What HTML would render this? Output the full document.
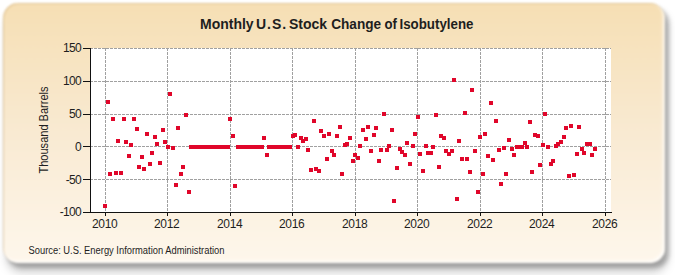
<!DOCTYPE html>
<html><head><meta charset="utf-8"><style>
html,body{margin:0;padding:0;background:#fff;width:675px;height:275px;overflow:hidden}
#panel{position:absolute;left:3px;top:3px;width:662px;height:260px;border-radius:15px;
background:linear-gradient(to bottom,#f6dfb4 0%,#f9ead2 50%,#fef7ec 100%);box-shadow:inset -2px -2px 3px rgba(255,255,255,0.85),inset 1px 1px 1px rgba(190,150,90,0.35);
filter:blur(1px)}
#shadow{position:absolute;left:7px;top:8px;width:662px;height:260px;border-radius:15px;background:rgba(0,0,0,0.24);filter:blur(2px)}
#shadow2{position:absolute;left:6px;top:11px;width:662px;height:262px;border-radius:15px;background:rgba(0,0,0,0.17);filter:blur(4px)}
svg{position:absolute;left:0;top:0}
text{font-family:"Liberation Sans",sans-serif;fill:#1e1e1e}
</style></head><body>
<div id="shadow2"></div><div id="shadow"></div><div id="panel"></div>
<svg width="675" height="275" viewBox="0 0 675 275">
<rect x="91" y="48" width="520" height="164" fill="#fff"/>
<g stroke="#a0a0a0" stroke-width="1" stroke-dasharray="3,1" shape-rendering="crispEdges">
<line x1="90" y1="48.5" x2="611" y2="48.5"/><line x1="90" y1="81.5" x2="611" y2="81.5"/><line x1="90" y1="114.5" x2="611" y2="114.5"/><line x1="90" y1="146.5" x2="611" y2="146.5"/><line x1="90" y1="179.5" x2="611" y2="179.5"/><line x1="105.5" y1="48" x2="105.5" y2="212"/><line x1="167.5" y1="48" x2="167.5" y2="212"/><line x1="230.5" y1="48" x2="230.5" y2="212"/><line x1="292.5" y1="48" x2="292.5" y2="212"/><line x1="355.5" y1="48" x2="355.5" y2="212"/><line x1="417.5" y1="48" x2="417.5" y2="212"/><line x1="480.5" y1="48" x2="480.5" y2="212"/><line x1="542.5" y1="48" x2="542.5" y2="212"/><line x1="605.5" y1="48" x2="605.5" y2="212"/>
</g>
<g stroke="#111" stroke-width="1" shape-rendering="crispEdges">
<line x1="90.5" y1="48" x2="90.5" y2="213"/>
<line x1="83" y1="212.5" x2="612" y2="212.5"/>
<line x1="83" y1="48.5" x2="90" y2="48.5"/><line x1="83" y1="81.5" x2="90" y2="81.5"/><line x1="83" y1="114.5" x2="90" y2="114.5"/><line x1="83" y1="146.5" x2="90" y2="146.5"/><line x1="83" y1="179.5" x2="90" y2="179.5"/><line x1="83" y1="212.5" x2="90" y2="212.5"/><line x1="105.5" y1="213" x2="105.5" y2="216"/><line x1="167.5" y1="213" x2="167.5" y2="216"/><line x1="230.5" y1="213" x2="230.5" y2="216"/><line x1="292.5" y1="213" x2="292.5" y2="216"/><line x1="355.5" y1="213" x2="355.5" y2="216"/><line x1="417.5" y1="213" x2="417.5" y2="216"/><line x1="480.5" y1="213" x2="480.5" y2="216"/><line x1="542.5" y1="213" x2="542.5" y2="216"/><line x1="605.5" y1="213" x2="605.5" y2="216"/>
</g>
<g font-size="12" text-anchor="end" letter-spacing="-0.67"><text x="81" y="52">150</text><text x="81" y="85">100</text><text x="81" y="118">50</text><text x="81" y="151">0</text><text x="81" y="184">-50</text><text x="81" y="216">-100</text></g>
<g font-size="12" text-anchor="middle" letter-spacing="-0.35"><text x="104.675" y="228">2010</text><text x="166.675" y="228">2012</text><text x="229.675" y="228">2014</text><text x="291.675" y="228">2016</text><text x="354.675" y="228">2018</text><text x="416.675" y="228">2020</text><text x="479.675" y="228">2022</text><text x="541.675" y="228">2024</text><text x="604.675" y="228">2026</text></g>
<g font-size="14" font-weight="bold" fill="#0a0a0a">
<text x="200" y="29">Monthly</text>
<text x="256" y="29" textLength="30.2" lengthAdjust="spacing">U.S.</text>
<text x="289" y="29">Stock</text>
<text x="331.2" y="29" textLength="50" lengthAdjust="spacingAndGlyphs">Change</text>
<text x="384.6" y="29" textLength="12.4" lengthAdjust="spacingAndGlyphs">of</text>
<text x="399.5" y="29" textLength="74" lengthAdjust="spacingAndGlyphs">Isobutylene</text>
</g>
<text transform="translate(48 130) rotate(-90)" font-size="12" text-anchor="middle" textLength="87" lengthAdjust="spacingAndGlyphs">Thousand Barrels</text>
<text x="28.5" y="253.5" font-size="10" textLength="196" lengthAdjust="spacingAndGlyphs">Source: U.S. Energy Information Administration</text>
<g fill="#e0062a" shape-rendering="crispEdges">
<rect x="103" y="204" width="4" height="4"/><rect x="106" y="100" width="4" height="4"/><rect x="108" y="172" width="4" height="4"/><rect x="111" y="117" width="4" height="4"/><rect x="114" y="171" width="4" height="4"/><rect x="116" y="139" width="4" height="4"/><rect x="119" y="171" width="4" height="4"/><rect x="122" y="117" width="4" height="4"/><rect x="124" y="140" width="4" height="4"/><rect x="127" y="154" width="4" height="4"/><rect x="129" y="143" width="4" height="4"/><rect x="132" y="117" width="4" height="4"/><rect x="135" y="127" width="4" height="4"/><rect x="137" y="165" width="4" height="4"/><rect x="140" y="155" width="4" height="4"/><rect x="142" y="167" width="4" height="4"/><rect x="145" y="132" width="4" height="4"/><rect x="148" y="162" width="4" height="4"/><rect x="150" y="151" width="4" height="4"/><rect x="153" y="135" width="4" height="4"/><rect x="155" y="142" width="4" height="4"/><rect x="158" y="161" width="4" height="4"/><rect x="161" y="128" width="4" height="4"/><rect x="163" y="140" width="4" height="4"/><rect x="166" y="145" width="4" height="4"/><rect x="168" y="92" width="4" height="4"/><rect x="171" y="146" width="4" height="4"/><rect x="174" y="183" width="4" height="4"/><rect x="176" y="126" width="4" height="4"/><rect x="179" y="172" width="4" height="4"/><rect x="181" y="165" width="4" height="4"/><rect x="184" y="113" width="4" height="4"/><rect x="187" y="190" width="4" height="4"/><rect x="189" y="145" width="4" height="4"/><rect x="192" y="145" width="4" height="4"/><rect x="194" y="145" width="4" height="4"/><rect x="197" y="145" width="4" height="4"/><rect x="200" y="145" width="4" height="4"/><rect x="202" y="145" width="4" height="4"/><rect x="205" y="145" width="4" height="4"/><rect x="207" y="145" width="4" height="4"/><rect x="210" y="145" width="4" height="4"/><rect x="213" y="145" width="4" height="4"/><rect x="215" y="145" width="4" height="4"/><rect x="218" y="145" width="4" height="4"/><rect x="220" y="145" width="4" height="4"/><rect x="223" y="145" width="4" height="4"/><rect x="226" y="145" width="4" height="4"/><rect x="228" y="117" width="4" height="4"/><rect x="231" y="134" width="4" height="4"/><rect x="233" y="184" width="4" height="4"/><rect x="236" y="145" width="4" height="4"/><rect x="239" y="145" width="4" height="4"/><rect x="241" y="145" width="4" height="4"/><rect x="244" y="145" width="4" height="4"/><rect x="247" y="145" width="4" height="4"/><rect x="249" y="145" width="4" height="4"/><rect x="252" y="145" width="4" height="4"/><rect x="254" y="145" width="4" height="4"/><rect x="257" y="145" width="4" height="4"/><rect x="260" y="145" width="4" height="4"/><rect x="262" y="136" width="4" height="4"/><rect x="265" y="153" width="4" height="4"/><rect x="267" y="145" width="4" height="4"/><rect x="270" y="145" width="4" height="4"/><rect x="273" y="145" width="4" height="4"/><rect x="275" y="145" width="4" height="4"/><rect x="278" y="145" width="4" height="4"/><rect x="280" y="145" width="4" height="4"/><rect x="283" y="145" width="4" height="4"/><rect x="286" y="145" width="4" height="4"/><rect x="288" y="145" width="4" height="4"/><rect x="291" y="134" width="4" height="4"/><rect x="293" y="133" width="4" height="4"/><rect x="296" y="145" width="4" height="4"/><rect x="299" y="136" width="4" height="4"/><rect x="301" y="139" width="4" height="4"/><rect x="304" y="137" width="4" height="4"/><rect x="306" y="148" width="4" height="4"/><rect x="309" y="168" width="4" height="4"/><rect x="312" y="119" width="4" height="4"/><rect x="314" y="167" width="4" height="4"/><rect x="317" y="169" width="4" height="4"/><rect x="319" y="129" width="4" height="4"/><rect x="322" y="134" width="4" height="4"/><rect x="325" y="157" width="4" height="4"/><rect x="327" y="132" width="4" height="4"/><rect x="330" y="149" width="4" height="4"/><rect x="332" y="153" width="4" height="4"/><rect x="335" y="134" width="4" height="4"/><rect x="338" y="125" width="4" height="4"/><rect x="340" y="172" width="4" height="4"/><rect x="343" y="143" width="4" height="4"/><rect x="345" y="142" width="4" height="4"/><rect x="348" y="136" width="4" height="4"/><rect x="351" y="159" width="4" height="4"/><rect x="353" y="153" width="4" height="4"/><rect x="356" y="156" width="4" height="4"/><rect x="358" y="144" width="4" height="4"/><rect x="361" y="128" width="4" height="4"/><rect x="364" y="137" width="4" height="4"/><rect x="366" y="125" width="4" height="4"/><rect x="369" y="149" width="4" height="4"/><rect x="372" y="133" width="4" height="4"/><rect x="374" y="126" width="4" height="4"/><rect x="377" y="159" width="4" height="4"/><rect x="379" y="148" width="4" height="4"/><rect x="382" y="112" width="4" height="4"/><rect x="385" y="148" width="4" height="4"/><rect x="387" y="144" width="4" height="4"/><rect x="390" y="128" width="4" height="4"/><rect x="392" y="199" width="4" height="4"/><rect x="395" y="166" width="4" height="4"/><rect x="398" y="147" width="4" height="4"/><rect x="400" y="150" width="4" height="4"/><rect x="403" y="153" width="4" height="4"/><rect x="405" y="141" width="4" height="4"/><rect x="408" y="162" width="4" height="4"/><rect x="411" y="144" width="4" height="4"/><rect x="413" y="132" width="4" height="4"/><rect x="416" y="115" width="4" height="4"/><rect x="418" y="152" width="4" height="4"/><rect x="421" y="169" width="4" height="4"/><rect x="424" y="144" width="4" height="4"/><rect x="426" y="151" width="4" height="4"/><rect x="429" y="151" width="4" height="4"/><rect x="431" y="145" width="4" height="4"/><rect x="434" y="113" width="4" height="4"/><rect x="437" y="165" width="4" height="4"/><rect x="439" y="134" width="4" height="4"/><rect x="442" y="136" width="4" height="4"/><rect x="444" y="149" width="4" height="4"/><rect x="447" y="152" width="4" height="4"/><rect x="450" y="149" width="4" height="4"/><rect x="452" y="78" width="4" height="4"/><rect x="455" y="197" width="4" height="4"/><rect x="457" y="139" width="4" height="4"/><rect x="460" y="157" width="4" height="4"/><rect x="463" y="111" width="4" height="4"/><rect x="465" y="157" width="4" height="4"/><rect x="468" y="170" width="4" height="4"/><rect x="470" y="88" width="4" height="4"/><rect x="473" y="149" width="4" height="4"/><rect x="476" y="190" width="4" height="4"/><rect x="478" y="135" width="4" height="4"/><rect x="481" y="172" width="4" height="4"/><rect x="483" y="132" width="4" height="4"/><rect x="486" y="154" width="4" height="4"/><rect x="489" y="101" width="4" height="4"/><rect x="491" y="158" width="4" height="4"/><rect x="494" y="119" width="4" height="4"/><rect x="497" y="148" width="4" height="4"/><rect x="499" y="182" width="4" height="4"/><rect x="502" y="146" width="4" height="4"/><rect x="504" y="172" width="4" height="4"/><rect x="507" y="138" width="4" height="4"/><rect x="510" y="147" width="4" height="4"/><rect x="512" y="153" width="4" height="4"/><rect x="515" y="145" width="4" height="4"/><rect x="517" y="145" width="4" height="4"/><rect x="520" y="145" width="4" height="4"/><rect x="523" y="141" width="4" height="4"/><rect x="525" y="145" width="4" height="4"/><rect x="528" y="120" width="4" height="4"/><rect x="530" y="170" width="4" height="4"/><rect x="533" y="133" width="4" height="4"/><rect x="536" y="134" width="4" height="4"/><rect x="538" y="163" width="4" height="4"/><rect x="541" y="143" width="4" height="4"/><rect x="543" y="112" width="4" height="4"/><rect x="546" y="145" width="4" height="4"/><rect x="549" y="162" width="4" height="4"/><rect x="551" y="159" width="4" height="4"/><rect x="554" y="144" width="4" height="4"/><rect x="556" y="142" width="4" height="4"/><rect x="559" y="140" width="4" height="4"/><rect x="562" y="135" width="4" height="4"/><rect x="564" y="126" width="4" height="4"/><rect x="567" y="174" width="4" height="4"/><rect x="569" y="124" width="4" height="4"/><rect x="572" y="173" width="4" height="4"/><rect x="575" y="152" width="4" height="4"/><rect x="577" y="125" width="4" height="4"/><rect x="580" y="147" width="4" height="4"/><rect x="582" y="151" width="4" height="4"/><rect x="585" y="142" width="4" height="4"/><rect x="588" y="142" width="4" height="4"/><rect x="590" y="153" width="4" height="4"/><rect x="593" y="147" width="4" height="4"/>
</g>
</svg>
</body></html>
